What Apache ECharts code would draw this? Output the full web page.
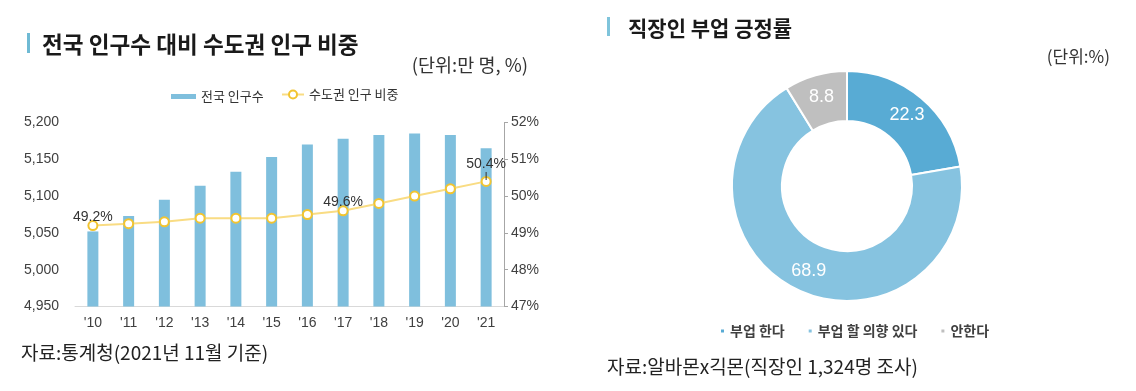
<!DOCTYPE html>
<html><head><meta charset="utf-8">
<script src="https://cdn.jsdelivr.net/npm/echarts@6/dist/echarts.min.js"></script>
<style>html,body{margin:0;padding:0;background:#fff}#c{width:1136px;height:391px}</style>
</head><body><div id="c"></div>
<script>
const years = ["'10","'11","'12","'13","'14","'15","'16","'17","'18","'19","'20","'21"];
const population = [5052, 5073, 5095, 5114, 5133, 5153, 5170, 5178, 5183, 5185, 5183, 5165];
const capitalShare = [49.2, 49.25, 49.3, 49.4, 49.4, 49.4, 49.5, 49.6, 49.8, 50.0, 50.2, 50.4];
const labeledPoints = [0, 7, 11];
const leftTicks = {min: 4950, max: 5200, interval: 50};
const rightTicks = {min: 47, max: 52, interval: 1};
const sideJobNames = ['부업 한다', '부업 할 의향 있다', '안한다'];
const sideJobValues = [22.3, 68.9, 8.8];
const sideJobColors = ['#58ABD4', '#86C3E0', '#BFBFBF'];

const KR = '"Noto Sans CJK KR", sans-serif';
const NUM = '"Liberation Sans", Arial, sans-serif';
const chart = echarts.init(document.getElementById('c'), null, {renderer: 'canvas'});
chart.setOption({
  animation: false,
  backgroundColor: '#fff',
  title: [
    {text: '전국 인구수 대비 수도권 인구 비중', left: 37, top: 28, textStyle: {fontFamily: KR, fontSize: 22.6, fontWeight: 'bold', color: '#1a1a1a'}},
    {text: '(단위:만 명, %)', right: 1136 - 533, top: 51, textStyle: {fontFamily: KR, fontSize: 18.5, fontWeight: 'normal', color: '#333'}},
    {text: '자료:통계청(2021년 11월 기준)', left: 16, top: 338, textStyle: {fontFamily: KR, fontSize: 19, fontWeight: 'normal', color: '#222'}},
    {text: '직장인 부업 긍정률', left: 623, top: 13, textStyle: {fontFamily: KR, fontSize: 21, fontWeight: 'bold', color: '#1a1a1a'}},
    {text: '(단위:%)', right: 1136 - 1115, top: 43, textStyle: {fontFamily: KR, fontSize: 17, fontWeight: 'normal', color: '#333'}},
    {text: '자료:알바몬x긱몬(직장인 1,324명 조사)', left: 602, top: 352, textStyle: {fontFamily: KR, fontSize: 19, fontWeight: 'normal', color: '#222'}}
  ],
  graphic: [
    {type: 'rect', shape: {x: 27, y: 33, width: 3, height: 20}, style: {fill: '#6FBAD4'}},
    {type: 'rect', shape: {x: 607, y: 17, width: 3, height: 19}, style: {fill: '#7FC4DB'}}
  ],
  legend: [
    {data: ['전국 인구수'], left: 166, top: 85, itemWidth: 25, itemHeight: 5, icon: 'rect', itemGap: 10,
     textStyle: {fontFamily: KR, fontSize: 13, color: '#333'}},
    {data: ['수도권 인구 비중'], left: 276, top: 83, itemWidth: 22, itemHeight: 10,
     textStyle: {fontFamily: KR, fontSize: 13, color: '#333'}},
    {data: sideJobNames, top: 319, left: 714, itemWidth: 5, itemHeight: 5, icon: 'rect', itemGap: 22,
     textStyle: {fontFamily: KR, fontSize: 14, fontWeight: 'bold', color: '#404040'}}
  ],
  grid: {left: 75, right: 632, top: 122.5, bottom: 84.5, containLabel: false},
  xAxis: {type: 'category', data: years, axisLine: {lineStyle: {color: '#D9D9D9', width: 1}}, axisTick: {show: false},
    axisLabel: {margin: 10, fontFamily: NUM, fontSize: 14, color: '#404040'}},
  yAxis: [
    {type: 'value', min: leftTicks.min, max: leftTicks.max, interval: leftTicks.interval, splitLine: {show: false},
     axisLine: {show: false}, axisTick: {show: false},
     axisLabel: {margin: 16, fontFamily: NUM, fontSize: 14, color: '#404040', formatter: v => v.toLocaleString('en-US')}},
    {type: 'value', position: 'right', min: rightTicks.min, max: rightTicks.max, interval: rightTicks.interval, splitLine: {show: false},
     axisLine: {show: true, lineStyle: {color: '#A6A6A6'}}, axisTick: {show: true, length: 4, lineStyle: {color: '#A6A6A6'}},
     axisLabel: {margin: 7, fontFamily: NUM, fontSize: 14, color: '#404040', formatter: '{value}%'}}
  ],
  series: [
    {name: '전국 인구수', type: 'bar', data: population, barWidth: 11, itemStyle: {color: '#7FBFDD'}},
    {name: '수도권 인구 비중', type: 'line', yAxisIndex: 1, data: capitalShare, z: 5,
     lineStyle: {color: '#F9DC83', width: 2}, symbol: 'circle', symbolSize: 9,
     itemStyle: {color: '#fff', borderColor: '#F2C430', borderWidth: 2},
     label: {show: true, position: 'top', distance: 0, offset: [0, 4], fontFamily: NUM, fontSize: 14, color: '#333',
       formatter: p => {
         if (!labeledPoints.includes(p.dataIndex)) return '';
         const t = p.value.toFixed(1) + '%';
         return p.dataIndex === years.length - 1 ? '{v|' + t + '}\n{l|}' : t;
       },
       rich: {v: {fontFamily: NUM, fontSize: 14, color: '#333', padding: [0, 0, 1, 0]}, l: {width: 1, height: 8, backgroundColor: '#333'}}}
    },
    {name: '직장인 부업 긍정률', type: 'pie', center: [847, 186], radius: [65, 115], startAngle: 90, clockwise: true,
     data: sideJobNames.map((n, i) => ({name: n, value: sideJobValues[i], itemStyle: {color: sideJobColors[i]}})),
     itemStyle: {borderColor: '#fff', borderWidth: 2},
     label: {show: true, position: 'inside', formatter: '{c}', fontFamily: NUM, fontSize: 18, color: '#fff'},
     labelLine: {show: false}, emphasis: {disabled: true}}
  ]
});
</script></body></html>
